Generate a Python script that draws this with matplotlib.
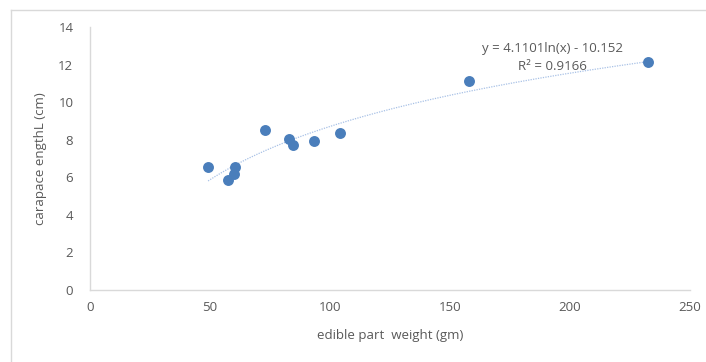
import numpy as np
import matplotlib
matplotlib.use("Agg")
import matplotlib.pyplot as plt
from matplotlib.lines import Line2D

# Data
weight = [49.2, 57.5, 60.0, 60.4, 72.9, 82.9, 84.6, 93.3, 104.2, 157.9, 232.5]
length = [6.55, 5.85, 6.17, 6.55, 8.50, 8.04, 7.72, 7.93, 8.36, 11.12, 12.13]
eq_label = "y = 4.1101ln(x) - 10.152"
r2_label = "R\u00b2 = 0.9166"

plt.rcParams['font.family'] = ['Open Sans', 'DejaVu Sans']
grey = '#595959'

fig = plt.figure(figsize=(7.06, 3.62), dpi=100)
ax = fig.add_axes([90/706, 1-290/362, 600/706, 263/362])

ax.scatter(weight, length, s=62, color='#4a7ebb', zorder=3, linewidths=0)

# logarithmic trendline
b, a = np.polyfit(np.log(weight), length, 1)
xs = np.linspace(min(weight), max(weight), 200)
ax.plot(xs, b*np.log(xs) + a, color='#a8c1e6', lw=0.9, ls=(0, (1, 1)), zorder=2)

ax.text(192.5, 12.88, eq_label, ha='center', va='center', fontsize=9.5, color=grey)
ax.text(192.5, 11.92, r2_label, ha='center', va='center', fontsize=9.5, color=grey)

ax.set_xlim(0, 250)
ax.set_ylim(0, 14)
ax.set_xticks(range(0, 251, 50))
ax.set_yticks(range(0, 15, 2))
ax.tick_params(length=0, labelsize=9.5, labelcolor=grey)
ax.tick_params(axis='y', pad=12)
ax.tick_params(axis='x', pad=8)
for s in ['top', 'right']:
    ax.spines[s].set_visible(False)
for s in ['left', 'bottom']:
    ax.spines[s].set_color('#d9d9d9')
    ax.spines[s].set_linewidth(1.0)

ax.set_xlabel("edible part  weight (gm)", fontsize=9.5, color=grey, labelpad=11)
ax.set_ylabel("carapace engthL (cm)", fontsize=9.5, color=grey, labelpad=8)

# chart frame (only top and left edges visible)
fig.add_artist(Line2D([11/706, 1], [1-10/362, 1-10/362], color='#d9d9d9', lw=1))
fig.add_artist(Line2D([11/706, 11/706], [0, 1-10/362], color='#d9d9d9', lw=1))

fig.savefig("out.png", dpi=100)
